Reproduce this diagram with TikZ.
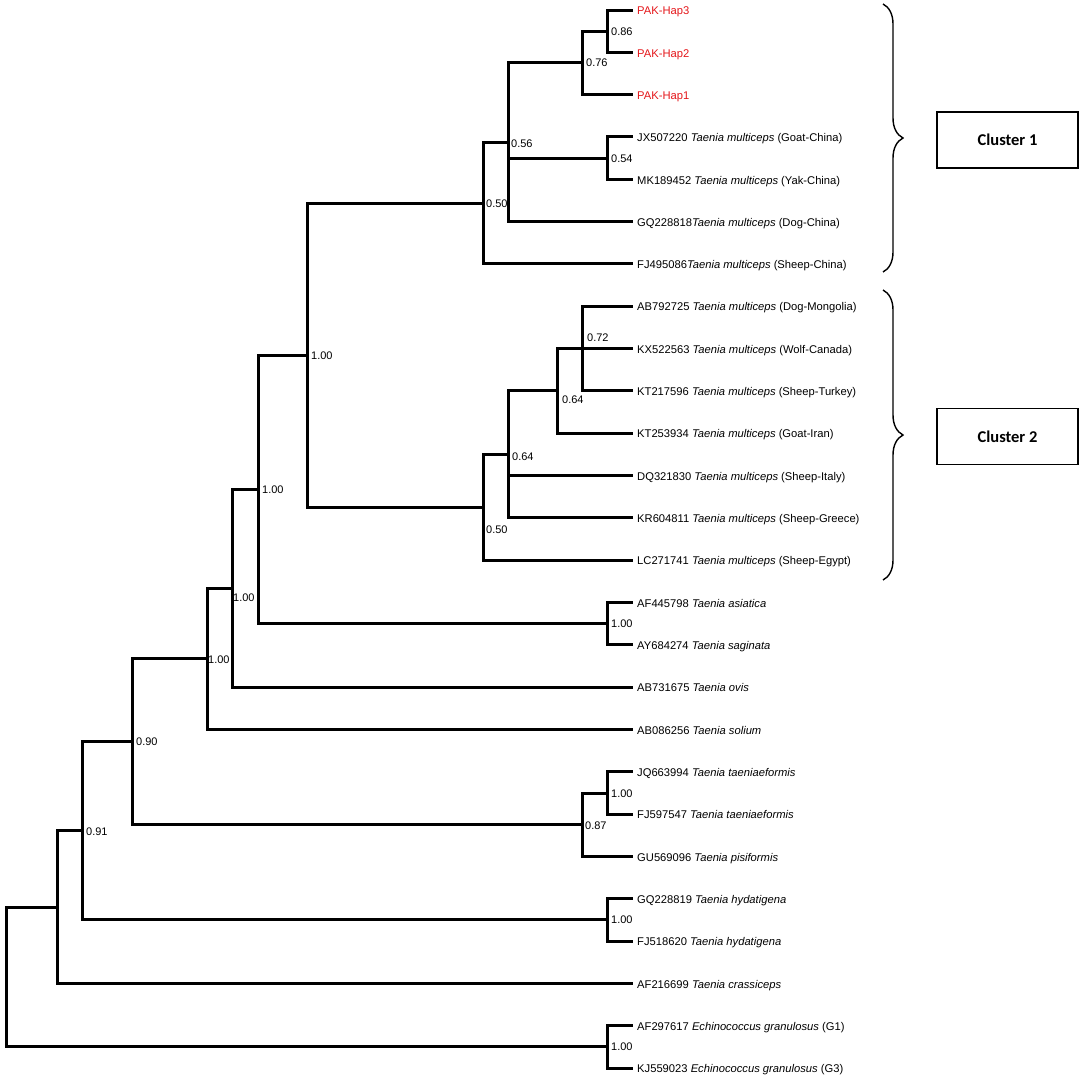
\documentclass[tikz,border=0pt]{standalone}
\usepackage{fontspec}
\setmainfont{Liberation Sans}
\newfontfamily\clusterfont{Carlito}
\usetikzlibrary{decorations.pathreplacing}
\definecolor{hapred}{RGB}{228,22,26}

\tikzset{
  branch/.style={line width=3pt, line cap=rect, line join=miter},
  leaf/.style={anchor=west, inner xsep=6pt, inner ysep=0pt, text height=9.5pt, text depth=0pt, font=\fontsize{11.2}{13}\selectfont},
  support/.style={anchor=west, inner sep=0pt, text height=8pt, text depth=0pt, font=\fontsize{11}{13}\selectfont},
  clusterbox/.style={draw, line width=1.3pt, minimum width=141pt, minimum height=56pt, font=\clusterfont\bfseries\fontsize{16.5}{18}\selectfont},
  clusterbrace/.style={decorate, decoration={brace, amplitude=20pt}, line width=1.4pt}
}

\begin{document}
\begin{tikzpicture}[x=1pt, y=-1pt]
\useasboundingbox (0,0) rectangle (1084,1080);

% leaves
\foreach \i/\txt in {1/{\textcolor{hapred}{PAK-Hap3}}, 2/{\textcolor{hapred}{PAK-Hap2}}, 3/{\textcolor{hapred}{PAK-Hap1}},
    4/{JX507220 \textit{Taenia multiceps} (Goat-China)}, 5/{MK189452 \textit{Taenia multiceps} (Yak-China)},
    6/{GQ228818\textit{Taenia multiceps} (Dog-China)}, 7/{FJ495086\textit{Taenia multiceps} (Sheep-China)},
    8/{AB792725 \textit{Taenia multiceps} (Dog-Mongolia)}, 9/{KX522563 \textit{Taenia multiceps} (Wolf-Canada)},
    10/{KT217596 \textit{Taenia multiceps} (Sheep-Turkey)}, 11/{KT253934 \textit{Taenia multiceps} (Goat-Iran)},
    12/{DQ321830 \textit{Taenia multiceps} (Sheep-Italy)}, 13/{KR604811 \textit{Taenia multiceps} (Sheep-Greece)},
    14/{LC271741 \textit{Taenia multiceps} (Sheep-Egypt)}, 15/{AF445798 \textit{Taenia asiatica}},
    16/{AY684274 \textit{Taenia saginata}}, 17/{AB731675 \textit{Taenia ovis}}, 18/{AB086256 \textit{Taenia solium}},
    19/{JQ663994 \textit{Taenia taeniaeformis}}, 20/{FJ597547 \textit{Taenia taeniaeformis}},
    21/{GU569096 \textit{Taenia pisiformis}}, 22/{GQ228819 \textit{Taenia hydatigena}},
    23/{FJ518620 \textit{Taenia hydatigena}}, 24/{AF216699 \textit{Taenia crassiceps}},
    25/{AF297617 \textit{Echinococcus granulosus} (G1)}, 26/{KJ559023 \textit{Echinococcus granulosus} (G3)}}{
  \coordinate (t\i) at (631,{10+42.32*(\i-1)});
  \node[leaf] (L\i) at (t\i) {\txt};
}

% internal nodes
\coordinate (n86) at (607,31.2);
\coordinate (n76) at (582,62.9);
\coordinate (n54) at (607,158.2);
\coordinate (n56) at (508,142.2);
\coordinate (n50a) at (483,203.0);
\coordinate (n72) at (582,348.6);
\coordinate (n64a) at (557,390.9);
\coordinate (n64b) at (508,454.4);
\coordinate (n50b) at (483,507.3);
\coordinate (n100a) at (307,355.2);
\coordinate (n100f) at (607,623.7);
\coordinate (n100b) at (258,489.4);
\coordinate (n100c) at (232,588.3);
\coordinate (n100d) at (207,658.9);
\coordinate (n100g) at (607,793.0);
\coordinate (n87) at (582,824.7);
\coordinate (n90) at (132,741.8);
\coordinate (n100h) at (607,919.9);
\coordinate (n91) at (82,830.8);
\coordinate (n57) at (57,907.1);
\coordinate (n100i) at (607,1046.9);
\coordinate (root) at (6,977.0);

% branches
\foreach \p/\c in {n86/t1, n86/t2, n76/n86, n76/t3, n54/t4, n54/t5, n56/n76, n56/n54, n56/t6,
    n50a/n56, n50a/t7, n72/t8, n72/t9, n72/t10, n64a/n72, n64a/t11, n64b/n64a, n64b/t12, n64b/t13,
    n50b/n64b, n50b/t14, n100a/n50a, n100a/n50b, n100f/t15, n100f/t16, n100b/n100a, n100b/n100f,
    n100c/n100b, n100c/t17, n100d/n100c, n100d/t18, n100g/t19, n100g/t20, n87/n100g, n87/t21,
    n90/n100d, n90/n87, n100h/t22, n100h/t23, n91/n90, n91/n100h, n57/n91, n57/t24,
    n100i/t25, n100i/t26, root/n57, root/n100i}{
  \draw[branch] (\p) |- (\c);
}

% support values
\foreach \nm/\x/\y/\v in {s86/611/31.2/0.86, s76/586/62.9/0.76, s54/611/158.2/0.54, s56/511/143/0.56,
    s50a/486/203/0.50, s72/587/337/0.72, s64a/562/399/0.64, s64b/512/456/0.64, s50b/486/529/0.50,
    s100a/311/355.2/1.00, s100b/262/489.4/1.00, s100c/233/597/1.00, s100d/208/659/1.00,
    s100f/611/623.7/1.00, s100g/611/793/1.00, s87/585/825/0.87, s90/136/741.8/0.90,
    s91/86/831/0.91, s100h/611/919.9/1.00, s100i/611/1046.9/1.00}{
  \node[support] (\nm) at (\x,\y) {\v};
}

% clusters
\coordinate (b1top) at (883,4);
\coordinate (b1bot) at (883,272);
\coordinate (b2top) at (883,290);
\coordinate (b2bot) at (883,580);
\draw[clusterbrace] (b1top) -- (b1bot);
\draw[clusterbrace] (b2top) -- (b2bot);
\node[clusterbox] (c1) at (1007.5,140) {Cluster 1};
\node[clusterbox] (c2) at (1007.5,436.5) {Cluster 2};
\end{tikzpicture}
\end{document}
